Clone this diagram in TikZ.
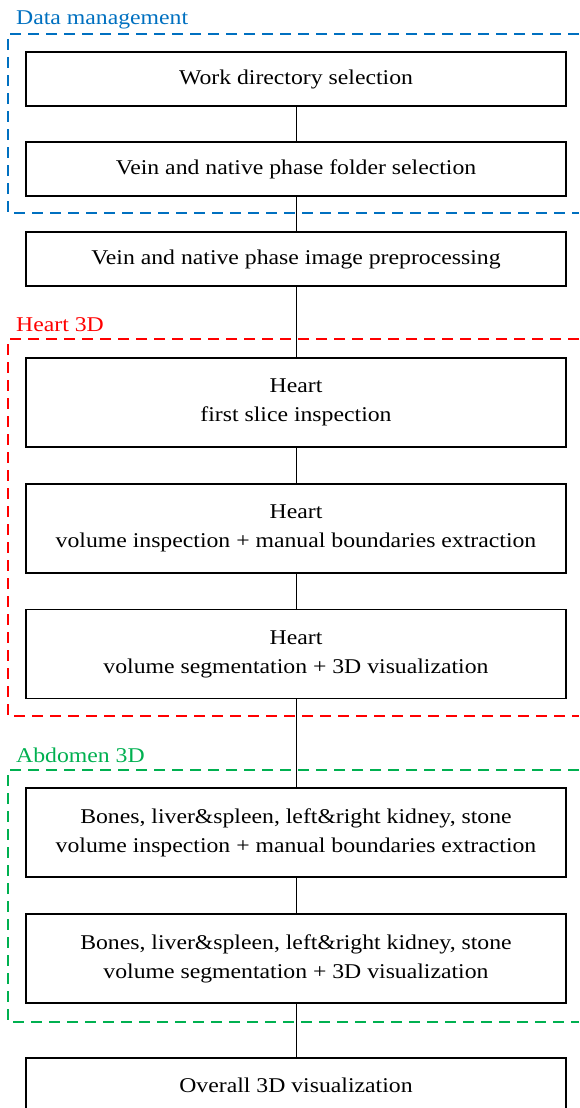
\documentclass[tikz,border=0pt]{standalone}
\usepackage{fontspec}
\setmainfont[FakeStretch=1.13]{Liberation Serif}
\definecolor{dmblue}{RGB}{0,112,192}
\definecolor{hred}{RGB}{255,0,0}
\definecolor{agreen}{RGB}{0,176,80}
\begin{document}
\begin{tikzpicture}[x=1pt,y=-1pt,
  stepbox/.style={draw, line width=1.2pt, minimum width=540pt, align=center, inner sep=0pt,
    font=\fontsize{21}{29}\selectfont},
  onebox/.style={stepbox, minimum height=54pt},
  twobox/.style={stepbox, minimum height=89pt},
  conn/.style={line width=1pt},
  grp/.style={line width=1.2pt, dash pattern=on 11pt off 7pt},
  lbl/.style={anchor=base west, inner sep=0pt, font=\fontsize{21}{25}\selectfont}]
\useasboundingbox (0,0) rectangle (579,1108);

% group frames
\draw[grp, dmblue] (579,34) -- (8,34) -- (8,213) -- (579,213);
\draw[grp, hred] (579,339) -- (8,339) -- (8,716) -- (579,716);
\draw[grp, agreen] (579,770) -- (8,770) -- (8,1022) -- (579,1022);

\node[lbl, text=dmblue] (ldm) at (16,25) {Data management};
\node[lbl, text=hred] (lh) at (16,331) {Heart 3D};
\node[lbl, text=agreen] (la) at (16,762) {Abdomen 3D};

\node[onebox] (n1) at (296,79) {Work directory selection};
\node[onebox] (n2) at (296,169) {Vein and native phase folder selection};
\node[onebox] (n3) at (296,259) {Vein and native phase image preprocessing};
\node[twobox] (n4) at (296,402.5) {Heart\\first slice inspection};
\node[twobox] (n5) at (296,528.5) {Heart\\volume inspection + manual boundaries extraction};
\node[twobox] (n6) at (296,654) {Heart\\volume segmentation + 3D visualization};
\node[twobox] (n7) at (296,832.5) {Bones, liver\&spleen, left\&right kidney, stone\\volume inspection + manual boundaries extraction};
\node[twobox] (n8) at (296,958.5) {Bones, liver\&spleen, left\&right kidney, stone\\volume segmentation + 3D visualization};
\node[onebox] (n9) at (296,1085) {Overall 3D visualization};

\draw[conn] (n1.south) -- (n2.north);
\draw[conn] (n2.south) -- (n3.north);
\draw[conn] (n3.south) -- (n4.north);
\draw[conn] (n4.south) -- (n5.north);
\draw[conn] (n5.south) -- (n6.north);
\draw[conn] (n6.south) -- (n7.north);
\draw[conn] (n7.south) -- (n8.north);
\draw[conn] (n8.south) -- (n9.north);
\end{tikzpicture}
\end{document}
